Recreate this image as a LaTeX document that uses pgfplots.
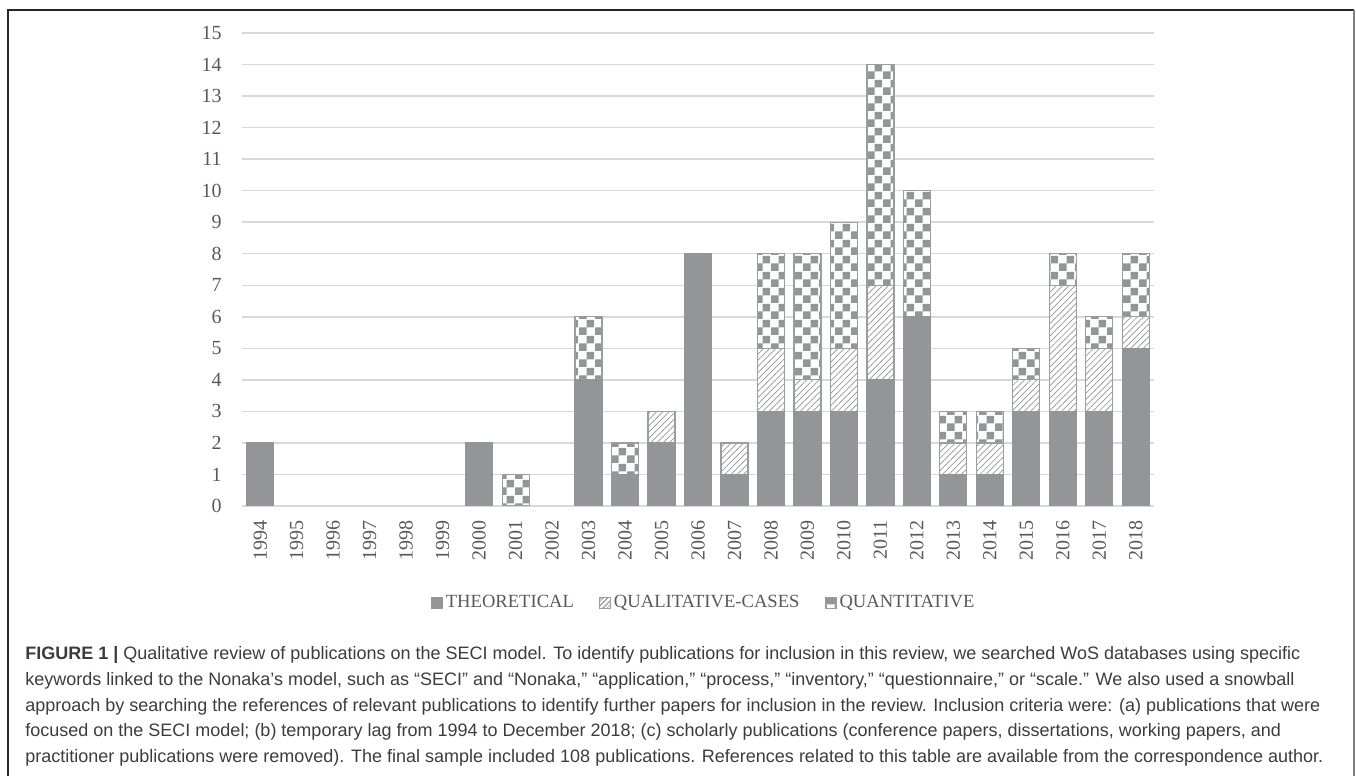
\documentclass[border=0pt]{standalone}
\usepackage{pgfplots}
\pgfplotsset{compat=1.18}
\usepackage{pgfplotstable}
\usepackage{fontspec}
\setmainfont{Liberation Serif}
\newfontfamily\capfont{Liberation Sans}
\usetikzlibrary{patterns.meta}

\definecolor{barc}{HTML}{939598}
\definecolor{barb}{HTML}{9C9DA0}
\definecolor{gridc}{HTML}{D9D9D9}
\definecolor{txtc}{HTML}{595959}
\definecolor{capc}{HTML}{3C3C3C}

\pgfdeclarepattern{
  name=checker,
  type=uncolored,
  bottom left={\pgfpoint{0pt}{0pt}},
  top right={\pgfpoint{7.8pt}{7.8pt}},
  tile size={\pgfpoint{7.8pt}{7.8pt}},
  code={
    \pgfpathrectangle{\pgfpoint{0pt}{0pt}}{\pgfpoint{3.9pt}{3.9pt}}
    \pgfpathrectangle{\pgfpoint{3.9pt}{3.9pt}}{\pgfpoint{3.9pt}{3.9pt}}
    \pgfusepath{fill}
  }
}

% year index, theoretical, qualitative-cases, quantitative
\pgfplotstableread{
x th ql qn
0  2 0 0
1  0 0 0
2  0 0 0
3  0 0 0
4  0 0 0
5  0 0 0
6  2 0 0
7  0 0 1
8  0 0 0
9  4 0 2
10 1 0 1
11 2 1 0
12 8 0 0
13 1 1 0
14 3 2 3
15 3 1 4
16 3 2 4
17 4 3 7
18 6 0 4
19 1 1 1
20 1 1 1
21 3 1 1
22 3 4 1
23 3 2 1
24 5 1 2
}\pubs

\begin{document}
\begin{tikzpicture}
\path[use as bounding box] (0,0) rectangle (678pt,388pt);
% frame
\draw[black!85, line width=1pt] (4pt,0pt) -- (4pt,383pt) -- (677pt,383pt);
\draw[black!50, line width=1pt] (677pt,383pt) -- (677pt,0pt);

\begin{axis}[
  at={(121pt,135pt)}, anchor=south west,
  scale only axis, width=456pt, height=236.5pt,
  ybar stacked, bar width=13.5pt,
  xmin=-0.5, xmax=24.5, ymin=0, ymax=15,
  xtick={0,...,24},
  xticklabels={1994,1995,1996,1997,1998,1999,2000,2001,2002,2003,2004,2005,2006,2007,2008,2009,2010,2011,2012,2013,2014,2015,2016,2017,2018},
  ytick={0,...,15},
  axis line style={draw=none},
  major tick length=0pt,
  ymajorgrids,
  major grid style={draw=gridc, line width=0.75pt},
  /pgf/number format/assume math mode=true,
  ticklabel style={font=\fontsize{10}{12}\selectfont, text=txtc},
  yticklabel style={anchor=east, inner sep=0pt, xshift=-10pt},
  xticklabel style={rotate=90, anchor=east, inner sep=0pt, xshift=-7pt},
  legend style={at={(axis description cs:0.5066,-0.205)}, anchor=center,
    draw=none, fill=none, legend columns=-1,
    font=\fontsize{9.3}{11}\selectfont, text=txtc,
    /tikz/every even column/.append style={column sep=11pt},
    nodes={inner sep=1.5pt}},
]
\addplot[fill=barc, draw=barc, line width=0.6pt,
  legend image code/.code={\fill[barc] (0pt,-2.75pt) rectangle (5.5pt,2.75pt);}]
  table[x=x, y=th]{\pubs};
\addlegendentry{THEORETICAL}
\addplot[fill=white, draw=barb, line width=0.6pt,
  postaction={pattern={Lines[angle=45,distance=2.2pt,line width=0.35pt]}, pattern color=barc},
  legend image code/.code={\draw[fill=white, draw=barb, line width=0.5pt,
    postaction={pattern={Lines[angle=45,distance=1.6pt,line width=0.3pt]}, pattern color=barc}]
    (0pt,-2.75pt) rectangle (5.5pt,2.75pt);}]
  table[x=x, y=ql]{\pubs};
\addlegendentry{QUALITATIVE-CASES}
\addplot[fill=white, draw=barb, line width=0.6pt,
  postaction={pattern=checker, pattern color=barc},
  legend image code/.code={\draw[fill=white, draw=barb, line width=0.5pt]
    (0pt,-2.75pt) rectangle (5.5pt,2.75pt);
    \fill[barc] (0.5pt,0pt) rectangle (5pt,2.4pt);}]
  table[x=x, y=qn]{\pubs};
\addlegendentry{QUANTITATIVE}
\draw[gridc, line width=0.9pt] (axis cs:-0.5,0) -- (axis cs:24.5,0);
\end{axis}

% caption
\begin{scope}[every node/.style={anchor=base west, inner sep=0pt, text=capc,
    font=\capfont\fontsize{9}{10.5}\selectfont}]
\node at (12.5pt,58pt) {\textbf{FIGURE 1 |} Qualitative review of publications on the SECI model. To identify publications for inclusion in this review, we searched WoS databases using specific};
\node at (12.5pt,45.2pt) {keywords linked to the Nonaka’s model, such as “SECI” and “Nonaka,” “application,” “process,” “inventory,” “questionnaire,” or “scale.” We also used a snowball};
\node at (12.5pt,32.4pt) {approach by searching the references of relevant publications to identify further papers for inclusion in the review. Inclusion criteria were: (a) publications that were};
\node at (12.5pt,19.6pt) {focused on the SECI model; (b) temporary lag from 1994 to December 2018; (c) scholarly publications (conference papers, dissertations, working papers, and};
\node at (12.5pt,6.8pt) {practitioner publications were removed). The final sample included 108 publications. References related to this table are available from the correspondence author.};
\end{scope}
\end{tikzpicture}
\end{document}
